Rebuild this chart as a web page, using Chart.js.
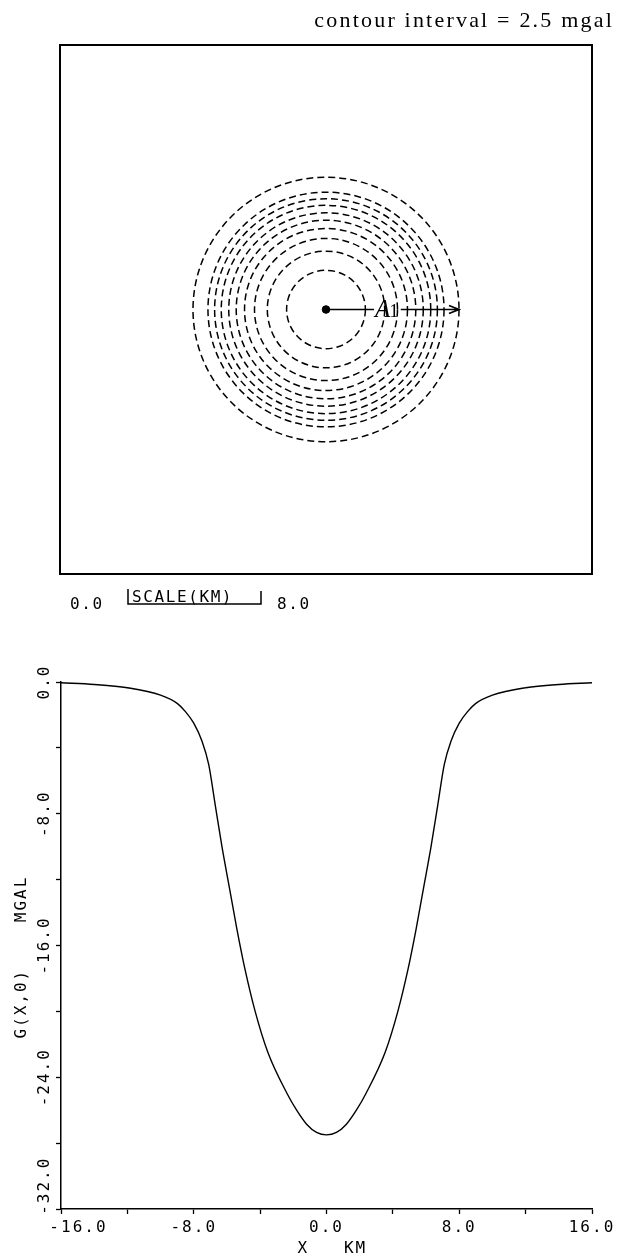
<!DOCTYPE html>
<html>
<head>
<meta charset="utf-8">
<script src="https://cdn.jsdelivr.net/npm/chart.js@4.4.1/dist/chart.umd.min.js"></script>
<style>
  html, body { margin: 0; padding: 0; background: #fff; }
  #wrap { position: relative; width: 624px; height: 1260px; }
  canvas { position: absolute; left: 0; }
  #map { top: 0; }
  #profile { top: 620px; }
</style>
</head>
<body>
<div id="wrap">
  <canvas id="map" width="624" height="620"></canvas>
  <canvas id="profile" width="624" height="640"></canvas>
</div>
<script>
// plan view: contour rings around the body, radius in km (innermost = -25 mgal)
const centerX = [0];
const centerY = [0];
const contourRadii = [2.37, 3.53, 4.3, 4.9, 5.4, 5.85, 6.3, 6.7, 7.1, 8.0];
const arrowLength = 8.0;
const scaleBarKm = [0, 8];

// profile along y = 0
const profileX = [-16, -14, -12, -10, -9, -8.5, -8, -7.5, -7.1, -6.7, -6.3, -5.85, -5.4, -4.9, -4.3, -3.53, -2.37,
                  -1.8, -1.2, -0.6, 0, 0.6, 1.2, 1.8,
                  2.37, 3.53, 4.3, 4.9, 5.4, 5.85, 6.3, 6.7, 7.1, 7.5, 8, 8.5, 9, 10, 12, 14, 16];
const profileG = [-0.05, -0.15, -0.35, -0.8, -1.3, -1.8, -2.5, -3.6, -5, -7.5, -10, -12.5, -15, -17.5, -20, -22.5, -25,
                  -26.0, -26.85, -27.35, -27.5, -27.35, -26.85, -26.0,
                  -25, -22.5, -20, -17.5, -15, -12.5, -10, -7.5, -5, -3.6, -2.5, -1.8, -1.3, -0.8, -0.35, -0.15, -0.05];

const xTicks = [-16, -12, -8, -4, 0, 4, 8, 12, 16];
const xTickLabels = ['   -16.0', '', '-8.0', '', '0.0', '', '8.0', '', '16.0'];
const yTicks = [-32, -28, -24, -20, -16, -12, -8, -4, 0];
const yTickLabels = ['    -32.0', '', '-24.0', '', '-16.0', '', '-8.0', '', '0.0'];

const plotFont = { family: '"DejaVu Sans Mono", monospace', size: 16 };

// frame, dashed contours, arrow and captions of the plan view
const mapDecor = {
  id: 'mapDecor',
  beforeDatasetsDraw(chart) {
    const { ctx, chartArea: a, scales: { x, y } } = chart;
    const cx = x.getPixelForValue(centerX[0]);
    const cy = y.getPixelForValue(centerY[0]);
    ctx.save();
    ctx.strokeStyle = '#000';
    ctx.lineWidth = 2;
    ctx.strokeRect(a.left, a.top, a.right - a.left, a.bottom - a.top);
    ctx.lineWidth = 1.5;
    ctx.setLineDash([7, 4]);
    contourRadii.forEach((r) => {
      const rx = x.getPixelForValue(centerX[0] + r) - cx;
      const ry = cy - y.getPixelForValue(centerY[0] + r);
      ctx.beginPath();
      ctx.ellipse(cx, cy, rx, ry, 0, 0, Math.PI * 2);
      ctx.stroke();
    });
    ctx.restore();
  },
  afterDatasetsDraw(chart) {
    const { ctx, chartArea: a, scales: { x, y } } = chart;
    const cx = x.getPixelForValue(centerX[0]);
    const cy = y.getPixelForValue(centerY[0]);
    const tip = x.getPixelForValue(centerX[0] + arrowLength);
    const textLeft = cx + 49;

    ctx.save();
    ctx.font = 'italic 25px "Liberation Serif"';
    const wA = ctx.measureText('A').width;
    ctx.font = '19px "Liberation Serif"';
    const w1 = ctx.measureText('1').width;
    const textRight = textLeft + wA + w1;

    ctx.strokeStyle = '#000';
    ctx.lineWidth = 1.7;
    ctx.beginPath();
    ctx.moveTo(cx, cy); ctx.lineTo(textLeft - 1, cy);
    ctx.moveTo(textRight + 1, cy); ctx.lineTo(tip, cy);
    ctx.moveTo(tip - 10, cy - 4); ctx.lineTo(tip, cy); ctx.lineTo(tip - 10, cy + 4);
    ctx.stroke();

    ctx.fillStyle = '#000';
    ctx.textBaseline = 'alphabetic';
    ctx.font = 'italic 25px "Liberation Serif"';
    ctx.fillText('A', textLeft, cy + 7);
    ctx.font = '19px "Liberation Serif"';
    ctx.fillText('1', textLeft + wA - 1, cy + 7);

    // title line above the frame
    ctx.font = '22px "Liberation Serif"';
    ctx.letterSpacing = '2.2px';
    ctx.textAlign = 'right';
    ctx.fillText('contour interval = 2.5 mgal', 614, 27);

    // scale bar under the frame
    const barLeft = a.left + 68;
    const barRight = barLeft + x.getPixelForValue(scaleBarKm[1]) - x.getPixelForValue(scaleBarKm[0]);
    ctx.lineWidth = 1.5;
    ctx.beginPath();
    ctx.moveTo(barLeft, 589); ctx.lineTo(barLeft, 604); ctx.lineTo(barRight, 604); ctx.lineTo(barRight, 591);
    ctx.stroke();
    ctx.textAlign = 'left';
    ctx.font = '16px "DejaVu Sans Mono"';
    ctx.letterSpacing = '1.6px';
    ctx.fillText(scaleBarKm[0].toFixed(1), a.left + 10, 609);
    ctx.fillText('SCALE(KM)', barLeft + 4, 602);
    ctx.fillText(scaleBarKm[1].toFixed(1), barRight + 16, 609);
    ctx.restore();
  }
};

new Chart(document.getElementById('map'), {
  type: 'scatter',
  data: {
    datasets: [{
      data: centerX.map((v, i) => ({ x: v, y: centerY[i] })),
      pointRadius: 3.8,
      backgroundColor: '#000',
      borderColor: '#000'
    }]
  },
  options: {
    responsive: false,
    animation: false,
    devicePixelRatio: 1,
    layout: { padding: { left: 60, right: 32, top: 45, bottom: 46 } },
    plugins: { legend: { display: false }, tooltip: { enabled: false } },
    scales: {
      x: { display: false, min: -16, max: 16 },
      y: { display: false, min: -16, max: 16 }
    }
  },
  plugins: [mapDecor]
});

// wide plotter-style lettering on the profile axes
const spacing = {
  id: 'spacing',
  beforeLayout(chart) { chart.ctx.letterSpacing = '2px'; },
  beforeDraw(chart) { chart.ctx.letterSpacing = '2px'; }
};

new Chart(document.getElementById('profile'), {
  type: 'line',
  data: {
    datasets: [{
      data: profileX.map((v, i) => ({ x: v, y: profileG[i] })),
      borderColor: '#000',
      borderWidth: 1.4,
      pointRadius: 0,
      fill: false,
      cubicInterpolationMode: 'monotone'
    }]
  },
  options: {
    responsive: false,
    animation: false,
    devicePixelRatio: 1,
    layout: { padding: { left: 0, right: 32, top: 62, bottom: 0 } },
    plugins: { legend: { display: false }, tooltip: { enabled: false } },
    scales: {
      x: {
        type: 'linear', min: -16, max: 16,
        afterBuildTicks: (s) => { s.ticks = xTicks.map((v) => ({ value: v })); },
        afterFit: (s) => { s.height = 51; },
        grid: { drawOnChartArea: false, color: '#000', tickLength: 5, tickWidth: 1.3 },
        border: { color: '#000', width: 1.5 },
        ticks: {
          autoSkip: false, maxRotation: 0, padding: 4, color: '#000', font: plotFont,
          callback: (v, i) => xTickLabels[i]
        },
        title: { display: true, text: ' X   KM', color: '#000', font: plotFont, padding: { top: 0, bottom: 2 } }
      },
      y: {
        type: 'linear', min: -32, max: 0,
        afterBuildTicks: (s) => { s.ticks = yTicks.map((v) => ({ value: v })); },
        afterFit: (s) => { s.width = 61; },
        grid: { drawOnChartArea: false, color: '#000', tickLength: 5, tickWidth: 1.3 },
        border: { color: '#000', width: 1.5 },
        ticks: {
          autoSkip: false, minRotation: 90, maxRotation: 90, crossAlign: 'center', padding: -41,
          color: '#000', font: plotFont,
          callback: (v, i) => yTickLabels[i]
        },
        title: { display: true, text: 'G(X,0)    MGAL  ', color: '#000', font: plotFont, padding: { top: 12, bottom: 0 } }
      }
    }
  },
  plugins: [spacing]
});
</script>
</body>
</html>
